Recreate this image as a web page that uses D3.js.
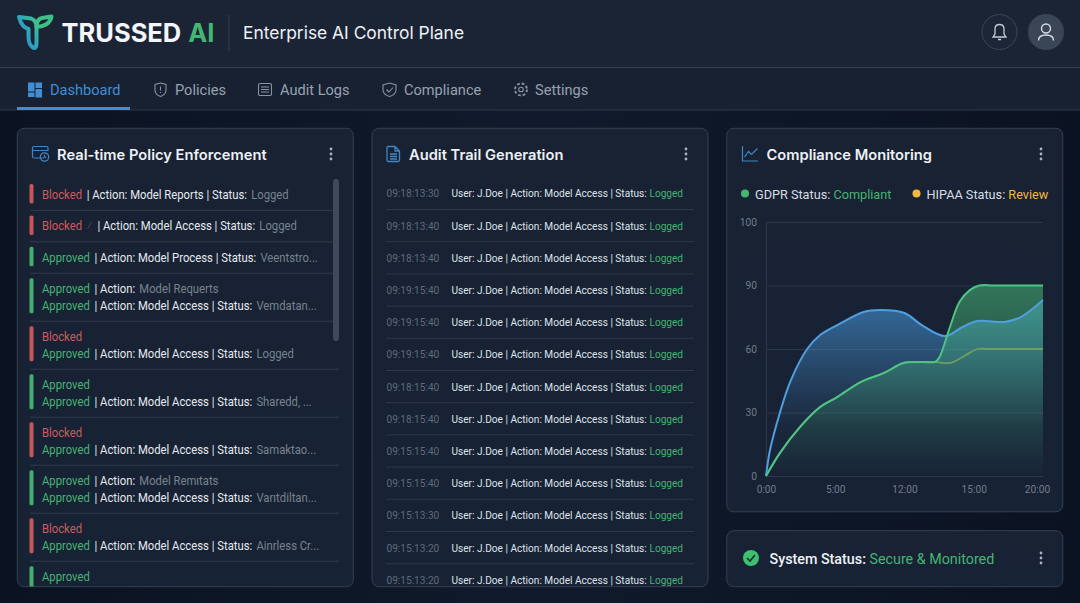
<!DOCTYPE html>
<html>
<head>
<meta charset="utf-8">
<script src="https://cdn.jsdelivr.net/npm/d3@7"></script>
<style>
  html, body { margin: 0; padding: 0; background: #0d1524; overflow: hidden; }
  svg { display: block; font-family: Roboto, "Noto Sans", sans-serif; }
</style>
</head>
<body>
<svg id="page" width="1080" height="603"></svg>
<script>
// nav
const navLabels = ["Dashboard", "Policies", "Audit Logs", "Compliance", "Settings"];

// policy rows: each line is [status, note, text, tail]
const policyRows = [
  [["Blocked", "", "| Action: Model Reports | Status:", "Logged"]],
  [["Blocked", "⁄", "| Action: Model Access | Status:", "Logged"]],
  [["Approved", "", "| Action: Model Process | Status:", "Veentstro..."]],
  [["Approved", "", "| Action:", "Model Requerts"], ["Approved", "", "| Action: Model Access | Status:", "Vemdatan..."]],
  [["Blocked", "", "", ""], ["Approved", "", "| Action: Model Access | Status:", "Logged"]],
  [["Approved", "", "", ""], ["Approved", "", "| Action: Model Access | Status:", "Sharedd, ..."]],
  [["Blocked", "", "", ""], ["Approved", "", "| Action: Model Access | Status:", "Samaktao..."]],
  [["Approved", "", "| Action:", "Model Remıtats"], ["Approved", "", "| Action: Model Access | Status:", "Varıtdiltan..."]],
  [["Blocked", "", "", ""], ["Approved", "", "| Action: Model Access | Status:", "Ainrless Cr..."]],
  [["Approved", "", "", ""]]
];

// audit trail
const auditTimes = ["09:18:13:30", "09:18:13:40", "09:18:13:40", "09:19:15:40", "09:19:15:40", "09:19:15:40",
  "09:18:15:40", "09:18:15:40", "09:15:15:40", "09:15:15:40", "09:15:13:30", "09:15:13:20", "09:15:13:20"];
const auditText = "User: J.Doe | Action: Model Access | Status:";
const auditResult = "Logged";

// compliance chart, hours and percent
const hourTicks = [0, 5, 12, 15, 20];
const hourLabels = ["0:00", "5:00", "12:00", "15:00", "20:00"];
const scoreTicks = [0, 30, 60, 90, 100];
const monitorHours = [0, 0.29, 1.01, 1.74, 2.97, 3.91, 5.2, 7.88, 9.63, 12, 12.75, 13.76, 14.51, 15.28, 17.22, 18.4, 20];
const monitorScore = [0, 12.3, 30, 44.4, 60, 66.6, 71.3, 77.5, 78.4, 77, 71.3, 66.1, 70.4, 73.2, 72.8, 75.1, 83.1];
const gdprHours = [0, 1.01, 2.46, 3.91, 5.2, 7.57, 9.94, 11.9, 12.75, 13.32, 13.5, 13.97, 14.38, 14.83, 15.4, 16.5, 20];
const gdprScore = [0, 10.9, 23.2, 32.6, 37.3, 44.4, 48.7, 53.4, 53.9, 53.9, 55.8, 70.4, 82.2, 87.8, 90, 90, 90];
const hipaaHours = [0, 1.01, 2.46, 3.91, 5.2, 7.57, 9.94, 11.9, 12.75, 13.32, 13.97, 14.51, 15.28, 16, 20];
const hipaaScore = [0, 10.9, 23.2, 32.6, 37.3, 44.4, 48.7, 53.4, 53.9, 53.9, 53.4, 56.2, 60, 60, 60];

const GREEN = "#45b573", RED = "#cf5a5c", YELLOW = "#f0b93f";
const svg = d3.select("#page");
const defs = svg.append("defs");

function gradient(id, stops, x1, y1, x2, y2) {
  const g = defs.append("linearGradient").attr("id", id)
    .attr("x1", x1).attr("y1", y1).attr("x2", x2).attr("y2", y2);
  stops.forEach(s => g.append("stop").attr("offset", s[0]).attr("stop-color", s[1]).attr("stop-opacity", s[2]));
}
gradient("pageBg", [[0, "#0b1322", 1], [0.5, "#101a2c", 1], [1, "#0b1322", 1]], 0, 0, 1, 0);
gradient("cardBg", [[0, "#182233", 1], [1, "#172235", 1]], 0, 0, 0, 1);
gradient("logoGrad", [[0, "#3fc48c", 1], [0.45, "#2fa7b8", 1], [1, "#2b86d0", 1]], 1, 0, 0, 1);
defs.append("linearGradient").attr("id", "blueFill").attr("gradientUnits", "userSpaceOnUse")
  .attr("x1", 0).attr("y1", 310).attr("x2", 0).attr("y2", 476)
  .call(g => {
    g.append("stop").attr("offset", 0).attr("stop-color", "#4a9fe6").attr("stop-opacity", 0.55);
    g.append("stop").attr("offset", 0.7).attr("stop-color", "#4a9bdc").attr("stop-opacity", 0.05);
    g.append("stop").attr("offset", 1).attr("stop-color", "#4a9bdc").attr("stop-opacity", 0);
  });
defs.append("linearGradient").attr("id", "greenFill").attr("gradientUnits", "userSpaceOnUse")
  .attr("x1", 0).attr("y1", 285).attr("x2", 0).attr("y2", 476)
  .call(g => {
    g.append("stop").attr("offset", 0).attr("stop-color", "#48bb78").attr("stop-opacity", 0.55);
    g.append("stop").attr("offset", 0.6).attr("stop-color", "#48bb78").attr("stop-opacity", 0.22);
    g.append("stop").attr("offset", 1).attr("stop-color", "#48bb78").attr("stop-opacity", 0);
  });

svg.append("rect").attr("width", 1080).attr("height", 603).attr("fill", "url(#pageBg)");

// header + nav bands
svg.append("rect").attr("width", 1080).attr("height", 68).attr("fill", "#1a2435");
svg.append("rect").attr("y", 68).attr("width", 1080).attr("height", 42).attr("fill", "#182131");
svg.append("line").attr("x1", 0).attr("x2", 1080).attr("y1", 67.5).attr("y2", 67.5).attr("stroke", "#323e50");
svg.append("line").attr("x1", 0).attr("x2", 1080).attr("y1", 110).attr("y2", 110).attr("stroke", "#2d3848");

function label(parent, x, y, size, weight, color, str, family) {
  const t = parent.append("text").attr("x", x).attr("y", y + size * 0.36)
    .attr("font-size", size).attr("font-weight", weight).attr("fill", color).text(str);
  if (family) t.attr("font-family", family);
  return t;
}
// the reference type is taller and narrower than Roboto
function squeeze(t, x, k) {
  return t.attr("x", 0).attr("transform", `translate(${x},0) scale(${k},1)`);
}
const INTER = "Inter, sans-serif";

// logo
const logo = svg.append("g").attr("fill", "none").attr("stroke", "url(#logoGrad)").attr("stroke-width", 4).attr("stroke-linejoin", "round");
logo.append("path").attr("d", "M19 17 L31 18.5 C35 20 36.5 23 36.5 27 L36.5 42 C36.5 46 35.5 48 34.5 48 C30.5 47 28.5 42 28.5 37 L28.5 29 C24.5 28 21 25 19 17 Z");
logo.append("path").attr("d", "M51.5 16.5 L42 18 C38 19 36.5 23 36.5 27 C43 27 50 24 51.5 16.5 Z").attr("stroke", "#3dbf8a");

const brand = label(svg, 61.5, 32.5, 25.5, 700, "#f3f5f8", "TRUSSED", INTER);
brand.append("tspan").attr("dx", 8).attr("fill", GREEN).text("AI");
svg.append("line").attr("x1", 229).attr("x2", 229).attr("y1", 15).attr("y2", 51).attr("stroke", "#36414f");
label(svg, 243, 33, 17.4, 400, "#eef1f5", "Enterprise AI Control Plane", INTER);

// bell + user
svg.append("circle").attr("cx", 999.5).attr("cy", 32).attr("r", 17.5).attr("fill", "#1c2636").attr("stroke", "#3b4656");
svg.append("circle").attr("cx", 1046).attr("cy", 32).attr("r", 18).attr("fill", "#3a4656");
svg.append("path").attr("fill", "none").attr("stroke", "#c4ccd6").attr("stroke-width", 1.3)
  .attr("d", "M993 37 L995 34 L995 29 C995 26 997 24.5 999.5 24.5 C1002 24.5 1004 26 1004 29 L1004 34 L1006 37 Z M998 39.5 L1001 39.5");
svg.append("circle").attr("cx", 1046).attr("cy", 28.5).attr("r", 4.5).attr("fill", "none").attr("stroke", "#d6dce3").attr("stroke-width", 1.4);
svg.append("path").attr("fill", "none").attr("stroke", "#d6dce3").attr("stroke-width", 1.4)
  .attr("d", "M1038.5 40.5 C1038.5 36.5 1041 35 1046 35 C1051 35 1053.5 36.5 1053.5 40.5");

// nav items
const navX = [50, 175, 280, 404, 535];
navLabels.forEach((n, i) => label(svg, navX[i], 89.5, 14.6, 400, i === 0 ? "#3f8ed6" : "#97a2b1", n));
svg.append("rect").attr("x", 17).attr("y", 107).attr("width", 113).attr("height", 3).attr("fill", "#3f8ed6");
[[28, 82.5, 6.5, 9], [35.5, 82.5, 6.5, 5.5], [35.5, 89, 6.5, 8.5], [28, 92.5, 6.5, 4.5]].forEach(r =>
  svg.append("rect").attr("x", r[0]).attr("y", r[1]).attr("width", r[2]).attr("height", r[3]).attr("fill", "#3f8ed6"));
const navIcon = svg.append("g").attr("fill", "none").attr("stroke", "#8792a2").attr("stroke-width", 1.1);
navIcon.append("path").attr("d", "M160.5 83 L166 84.5 L166 90 C166 93 163.5 95.5 160.5 96.5 C157.5 95.5 155 93 155 90 L155 84.5 Z M160.5 86.5 L160.5 90.5 M160.5 92 L160.5 93");
navIcon.append("rect").attr("x", 258.5).attr("y", 83.5).attr("width", 13).attr("height", 12).attr("rx", 1.5);
navIcon.append("path").attr("d", "M261 87 L269 87 M261 89.5 L269 89.5 M261 92 L269 92");
navIcon.append("path").attr("d", "M389.5 83 L396 85 L396 90 C396 93 393 95.5 389.5 96.5 C386 95.5 383 93 383 90 L383 85 Z M386.5 89.5 L389 92 L393 87.5");
navIcon.append("circle").attr("cx", 521).attr("cy", 89.5).attr("r", 2.3);
navIcon.append("circle").attr("cx", 521).attr("cy", 89.5).attr("r", 6).attr("stroke-dasharray", "2.8 1.9").attr("stroke-width", 1.9);

// cards
const cards = [[17.3, 128.3, 336, 458.4], [372, 128.3, 336, 458.4], [726.8, 128.3, 336, 383.5], [726.8, 530.7, 336, 56]];
cards.forEach(c => svg.append("rect").attr("x", c[0]).attr("y", c[1]).attr("width", c[2]).attr("height", c[3])
  .attr("rx", 7).attr("fill", "url(#cardBg)").attr("stroke", "#344152"));

function dots(x, y) {
  [-5, 0, 5].forEach(d => svg.append("circle").attr("cx", x).attr("cy", y + d).attr("r", 1.4).attr("fill", "#aab3bf"));
}
dots(331, 154); dots(686, 154); dots(1041, 154); dots(1041, 558);
label(svg, 57, 154.5, 14.7, 600, "#eef1f5", "Real-time Policy Enforcement", INTER);
label(svg, 409, 154.5, 14.7, 600, "#eef1f5", "Audit Trail Generation", INTER);
label(svg, 766.5, 154.5, 14.7, 600, "#eef1f5", "Compliance Monitoring", INTER);

// card icons
const cardIcon = svg.append("g").attr("fill", "none").attr("stroke", "#3f86c8").attr("stroke-width", 1.2);
cardIcon.append("path").attr("d", "M44 158 L34 158 C33 158 32.5 157.5 32.5 156.5 L32.5 148 C32.5 147 33 146.5 34 146.5 L46.5 146.5 C47.5 146.5 48 147 48 148 L48 151 M32.5 150.5 L48 150.5");
cardIcon.append("circle").attr("cx", 44.5).attr("cy", 157).attr("r", 4.2);
cardIcon.append("path").attr("d", "M44.5 154.8 L44.5 157 L46.3 157.8");
cardIcon.append("path").attr("d", "M388 146.5 L395 146.5 L399.5 151 L399.5 160 C399.5 161 399 161.5 398 161.5 L388 161.5 C387 161.5 387 161 387 160 L387 148 C387 147 387 146.5 388 146.5 Z M395 146.5 L395 151 L399.5 151 M390 154 L397 154 M390 156.5 L397 156.5 M390 159 L397 159").attr("stroke-width", 1.3);
cardIcon.append("path").attr("d", "M742.5 146 L742.5 161 L758 161 M744.5 157 L748.5 151.5 L751.5 154.5 L757.5 148.5");

// policy list, clipped by its card
defs.append("clipPath").attr("id", "policyClip").append("rect").attr("x", 17).attr("y", 170).attr("width", 336).attr("height", 416.5);
const policy = svg.append("g").attr("clip-path", "url(#policyClip)");
const lineGap = 17, singleH = 31.4, doubleH = 48;
let rowTop = 179;
policyRows.forEach((row, i) => {
  const h = row.length === 1 ? singleH : doubleH;
  const first = row[0][0];
  const extra = i === policyRows.length - 1 ? 12 : 0;
  policy.append("rect").attr("x", 29.5).attr("y", rowTop + 5).attr("width", 4)
    .attr("height", (row.length === 1 ? 19.5 : 35) + extra).attr("rx", 1.5)
    .attr("fill", first === "Blocked" ? RED : GREEN).attr("opacity", 0.95);
  row.forEach((ln, j) => {
    const t = squeeze(label(policy, 42, rowTop + 15.5 + j * lineGap, 12.2, 400, "#e6eaef", ""), 42, 0.925);
    t.append("tspan").attr("fill", ln[0] === "Blocked" ? RED : GREEN).text(ln[0]);
    if (ln[1]) t.append("tspan").attr("dx", 5).attr("fill", "#5c4a55").text(ln[1]);
    if (ln[2]) t.append("tspan").attr("dx", ln[1] ? 6 : 5).text(ln[2]);
    if (ln[3]) t.append("tspan").attr("dx", 4.5).attr("fill", "#77828f").text(ln[3]);
  });
  rowTop += h;
  if (i < policyRows.length - 1) {
    policy.append("line").attr("x1", 30).attr("x2", i < 4 ? 333 : 339).attr("y1", rowTop).attr("y2", rowTop).attr("stroke", "#303c4d");
  }
});
svg.append("rect").attr("x", 333).attr("y", 179).attr("width", 6).attr("height", 162).attr("rx", 3).attr("fill", "#3d4a5b");

// audit list
defs.append("clipPath").attr("id", "auditClip").append("rect").attr("x", 372).attr("y", 170).attr("width", 336).attr("height", 416.5);
const audit = svg.append("g").attr("clip-path", "url(#auditClip)");
const auditY = d3.scaleBand().domain(d3.range(auditTimes.length)).range([177.3, 177.3 + 32.2 * auditTimes.length]);
auditTimes.forEach((t, i) => {
  const y = auditY(i) + auditY.bandwidth() / 2;
  squeeze(label(audit, 386.5, y, 11, 400, "#5f6b7b", t), 386.5, 0.92);
  const row = squeeze(label(audit, 451.5, y, 11, 400, "#dfe4ea", auditText), 451.5, 0.92);
  row.append("tspan").attr("dx", 3).attr("fill", GREEN).text(auditResult);
  if (i < auditTimes.length - 1) {
    audit.append("line").attr("x1", 386).attr("x2", 694).attr("y1", auditY(i) + auditY.bandwidth()).attr("y2", auditY(i) + auditY.bandwidth()).attr("stroke", "#2e3a4b");
  }
});

// legend
svg.append("circle").attr("cx", 745).attr("cy", 193.5).attr("r", 4).attr("fill", GREEN);
const gdprLabel = label(svg, 755, 194, 12.7, 400, "#d7dce3", "GDPR Status: ");
gdprLabel.append("tspan").attr("fill", GREEN).text("Compliant");
svg.append("circle").attr("cx", 916.5).attr("cy", 193.5).attr("r", 4).attr("fill", YELLOW);
const hipaaLabel = label(svg, 926.5, 194, 12.7, 400, "#d7dce3", "HIPAA Status: ");
hipaaLabel.append("tspan").attr("fill", YELLOW).text("Review");

// chart: ticks sit evenly apart in the picture, hence the piecewise scales
const plotL = 766, plotR = 1043, plotT = 222, plotB = 476;
const x = d3.scaleLinear().domain(hourTicks).range(hourTicks.map((_, i) => plotL + (plotR - plotL) * i / (hourTicks.length - 1)));
const y = d3.scaleLinear().domain(scoreTicks).range(scoreTicks.map((_, i) => plotB - (plotB - plotT) * i / (scoreTicks.length - 1)));
const chart = svg.append("g");

const yAxis = chart.append("g").attr("transform", `translate(${plotL},0)`)
  .call(d3.axisLeft(y).tickValues(scoreTicks).tickSize(0).tickPadding(9));
const grid = chart.append("g").attr("transform", `translate(${plotL},0)`)
  .call(d3.axisLeft(y).tickValues(scoreTicks).tickSize(-(plotR - plotL)).tickFormat(""));
grid.selectAll("line").attr("stroke", "#2b3849");
grid.select(".domain").attr("stroke", "#2b3849");
yAxis.select(".domain").remove();
const xAxis = chart.append("g").attr("transform", `translate(0,${plotB})`)
  .call(d3.axisBottom(x).tickValues(hourTicks).tickFormat((d, i) => hourLabels[i]).tickSize(0).tickPadding(10));
xAxis.select(".domain").remove();
chart.selectAll("text").attr("font-family", "Roboto, sans-serif").attr("font-size", 10.2).attr("fill", "#717d8c");
// last label is pulled in so it stays inside the card
xAxis.selectAll(".tick:last-of-type text").attr("x", -6);

const zip = (a, b) => a.map((h, i) => [h, b[i]]);
const area = d3.area().x(d => x(d[0])).y0(y(0)).y1(d => y(d[1])).curve(d3.curveCatmullRom.alpha(0.5));
const line = d3.line().x(d => x(d[0])).y(d => y(d[1])).curve(d3.curveCatmullRom.alpha(0.5));
const monitor = zip(monitorHours, monitorScore), gdpr = zip(gdprHours, gdprScore), hipaa = zip(hipaaHours, hipaaScore);

chart.append("path").attr("d", area(monitor)).attr("fill", "url(#blueFill)");
chart.append("path").attr("d", area(gdpr)).attr("fill", "url(#greenFill)");
chart.append("path").attr("d", line(monitor)).attr("fill", "none").attr("stroke", "#4f9fe0").attr("stroke-width", 2);
chart.append("path").attr("d", line(hipaa)).attr("fill", "none").attr("stroke", "#6f9f62").attr("stroke-width", 1.8);
chart.append("path").attr("d", line(gdpr)).attr("fill", "none").attr("stroke", "#4cc483").attr("stroke-width", 2);

// system status
svg.append("circle").attr("cx", 751).attr("cy", 558).attr("r", 8).attr("fill", "#3fbf73");
svg.append("path").attr("d", "M747 558 L750 561 L755 555").attr("fill", "none").attr("stroke", "#13301f").attr("stroke-width", 1.6);
const statusText = label(svg, 769.5, 558.5, 14.3, 500, "#eef1f5", "System Status: ");
statusText.append("tspan").attr("font-weight", 400).attr("fill", GREEN).text("Secure & Monitored");
</script>
</body>
</html>
